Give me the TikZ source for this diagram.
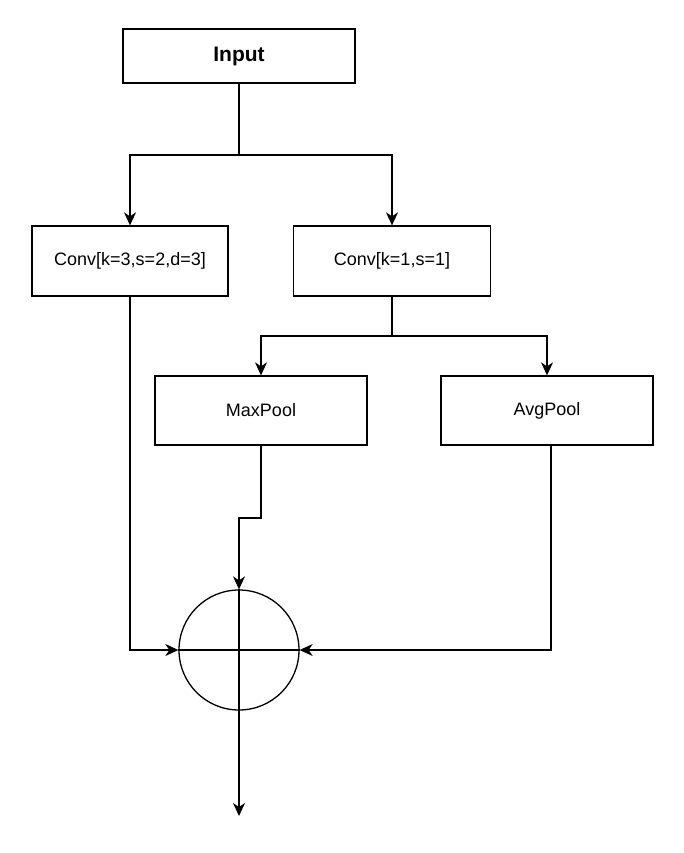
\documentclass[tikz,border=0pt]{standalone}
\usepackage{fontspec}
\setmainfont{Liberation Sans}
\usetikzlibrary{arrows.meta,calc}

\begin{document}
\begin{tikzpicture}[x=1pt,y=-1pt,
    block/.style={draw,line width=1.3pt,minimum width=#1,inner sep=0pt,
      font=\fontsize{18}{21}\selectfont},
    flow/.style={line width=1.3pt,-{Stealth[length=13pt,width=12pt,inset=4pt]}},
    wire/.style={line width=1.3pt}]
   \useasboundingbox (0,0) rectangle (684,853);

   \node[block=232pt,minimum height=54pt,font=\fontsize{21}{24}\selectfont\bfseries] (input) at (239,56) {Input};
   \node[block=196pt,minimum height=70pt] (convA) at (130,261) {Conv[k=3,s=2,d=3]};
   \node[block=197pt,minimum height=70pt] (convB) at (392,261) {Conv[k=1,s=1]};
   \node[block=212pt,minimum height=69pt] (maxpool) at (261,410.5) {MaxPool};
   \node[block=212pt,minimum height=69pt] (avgpool) at (547,410.5) {AvgPool};
   \node[draw,line width=1.3pt,circle,minimum size=120pt,inner sep=0pt] (sum) at (239,650) {};
   \coordinate (out) at (239,816);

   % plus sign in the circle
   \draw[wire] (sum.north) -- (sum.south);
   \draw[wire] (sum.west) -- (sum.east);

   % branches
   \draw[wire] (input.south) -- (239,155) coordinate (split1);
   \foreach \target in {convA,convB} {
     \draw[flow] (split1) -| (\target.north);
   }
   \draw[wire] (convB.south) -- (392,336) coordinate (split2);
   \foreach \target in {maxpool,avgpool} {
     \draw[flow] (split2) -| (\target.north);
   }

   % merge
   \draw[flow] (convA.south) |- (sum.west);
   \draw[flow] (maxpool.south) -- (261,518) -- (239,518) -- (sum.north);
   \draw[flow] ($(avgpool.south)+(4,0)$) |- (sum.east);
   \draw[flow] (sum.south) -- (out);
\end{tikzpicture}
\end{document}
